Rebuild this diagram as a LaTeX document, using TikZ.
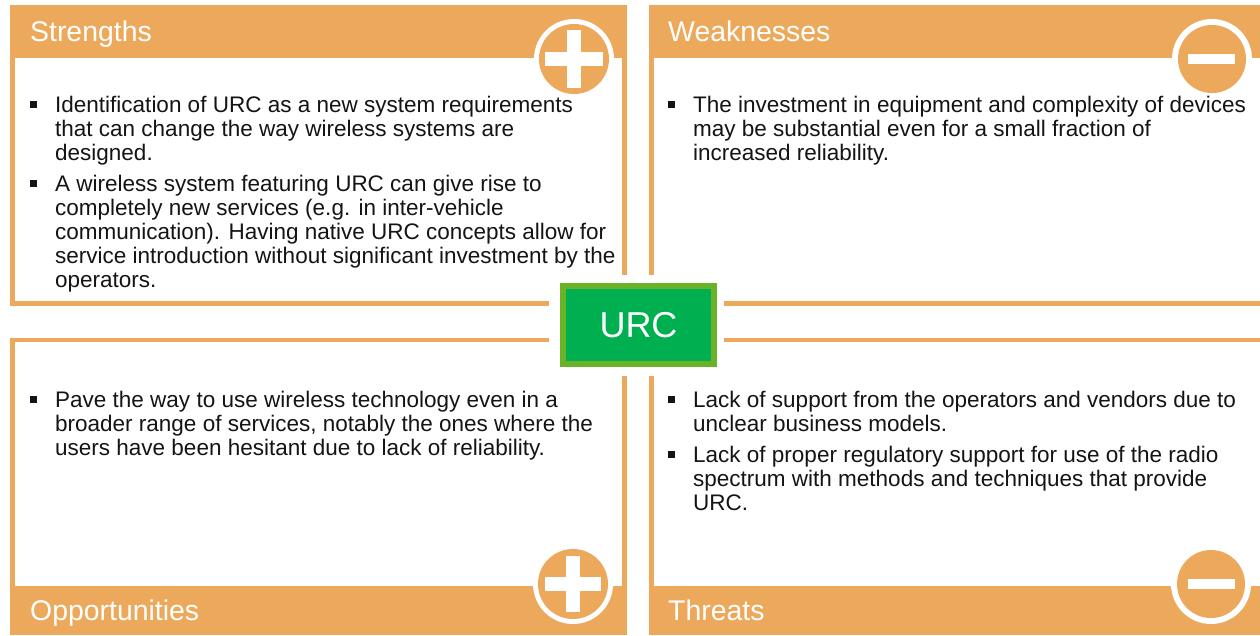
\documentclass[tikz,border=0pt]{standalone}
\usepackage{fontspec}
\setmainfont{Liberation Sans}
\definecolor{orng}{RGB}{236,169,92}
\definecolor{urcg}{RGB}{0,176,80}
\definecolor{urcb}{RGB}{106,178,40}
\definecolor{txt}{RGB}{20,20,20}
\newcommand{\bulsq}{\leavevmode\llap{\rule[4.5pt]{7pt}{7pt}\hspace{18pt}}}
\begin{document}
\begin{tikzpicture}[x=1pt,y=-1pt,
  hdr/.style={anchor=base west, text=white, font=\fontsize{28.4}{30}\selectfont, inner sep=0pt},
  body/.style={anchor=base west, text=txt, font=\fontsize{22.5}{24}\selectfont, inner sep=0pt},
  ring/.style={fill=white},
  disc/.style={fill=orng},
  sign/.style={fill=white}]
\useasboundingbox (0,0) rectangle (1260,635);
\clip (0,0) rectangle (1260,635);
% quadrant frames
\fill[orng] (10,5) rectangle (627,306);
\fill[white] (15,58) rectangle (622,301);
\fill[orng] (649,5) rectangle (1260,306);
\fill[white] (654,58) rectangle (1260,301);
\fill[orng] (10,338) rectangle (627,635);
\fill[white] (15,342) rectangle (622,586);
\fill[orng] (649,338) rectangle (1260,635);
\fill[white] (654,342) rectangle (1260,586);
% gap around centre box
\fill[white] (549,275) rectangle (724,376);
% centre box
\node[draw=urcb, line width=6pt, fill=urcg, minimum width=151pt, minimum height=78pt,
      inner sep=0pt, text=white, font=\fontsize{36}{36}\selectfont] (urc) at (638.5,325) {URC};
% icons
\fill[ring] (574,59) circle[radius=40pt];
\fill[disc] (574,59) circle[radius=35pt];
\fill[sign] (545,52) rectangle (603,66);
\fill[sign] (567,30) rectangle (581,88);
\fill[ring] (1212,59) circle[radius=40pt];
\fill[disc] (1212,59) circle[radius=34pt];
\fill[sign] (1188,54) rectangle (1235,64);
\fill[ring] (573,584) circle[radius=40pt];
\fill[disc] (573,584) circle[radius=35pt];
\fill[sign] (545,577) rectangle (601,591);
\fill[sign] (566,556) rectangle (580,612);
\fill[ring] (1211,584) circle[radius=40pt];
\fill[disc] (1211,584) circle[radius=34pt];
\fill[sign] (1188,579) rectangle (1235,589);
% headers
\node[hdr] (hs) at (30,41) {Strengths};
\node[hdr] (hw) at (668,41) {Weaknesses};
\node[hdr] (ho) at (30,620) {Opportunities};
\node[hdr] (ht) at (668,620) {Threats};
% bodies
\node[body] (s1) at (55,112) {\parbox[t]{600pt}{\bulsq Identification of URC as a new system requirements\\that can change the way wireless systems are\\designed.}};
\node[body] (s2) at (55,191) {\parbox[t]{600pt}{\bulsq A wireless system featuring URC can give rise to\\completely new services (e.g. in inter-vehicle\\communication). Having native URC concepts allow for\\service introduction without significant investment by the\\operators.}};
\node[body] (w1) at (693,112) {\parbox[t]{600pt}{\bulsq The investment in equipment and complexity of devices\\may be substantial even for a small fraction of\\increased reliability.}};
\node[body] (o1) at (55,407) {\parbox[t]{600pt}{\bulsq Pave the way to use wireless technology even in a\\broader range of services, notably the ones where the\\users have been hesitant due to lack of reliability.}};
\node[body] (t1) at (693,407) {\parbox[t]{600pt}{\bulsq Lack of support from the operators and vendors due to\\unclear business models.}};
\node[body] (t2) at (693,462) {\parbox[t]{600pt}{\bulsq Lack of proper regulatory support for use of the radio\\spectrum with methods and techniques that provide\\URC.}};
\end{tikzpicture}
\end{document}
